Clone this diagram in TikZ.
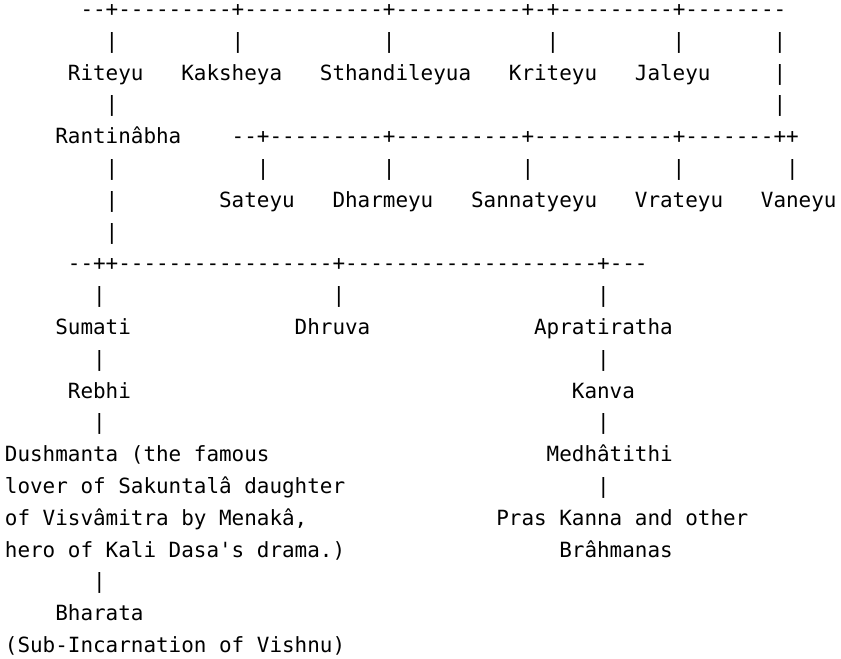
\documentclass[tikz,border=0pt]{standalone}
\usepackage{fontspec}
\setmonofont{DejaVu Sans Mono}
\frenchspacing
\begin{document}
\begin{tikzpicture}[x=9.45pt, y=-23.85pt,
  person/.style={anchor=base west, inner sep=0pt, outer sep=0pt,
    font=\ttfamily\fontsize{15.7pt}{23.85pt}\selectfont},
  link/.style={person}]
  \useasboundingbox (-0.389,-0.519) rectangle (66.357,20.173);
  % top row of brothers
  \node[link] (topbar) at (6,0) {--+---------+-----------+----------+-+---------+--------};
  \foreach \c in {8,18,30,43,53,61} \node[link] (topdrop-\c) at (\c,1) {|};
  \node[person] (riteyu) at (5,2) {Riteyu};
  \node[person] (kaksheya) at (14,2) {Kaksheya};
  \node[person] (sthandileyua) at (25,2) {Sthandileyua};
  \node[person] (kriteyu) at (40,2) {Kriteyu};
  \node[person] (jaleyu) at (50,2) {Jaleyu};
  \node[link] (side-2) at (61,2) {|};
  \node[link] (riteyu-down) at (8,3) {|};
  \node[link] (side-3) at (61,3) {|};
  % Rantinabha and the second row
  \node[person] (rantinabha) at (4,4) {Rantinâbha};
  \node[link] (midbar) at (18,4) {--+---------+----------+-----------+-------++};
  \foreach \c in {8,20,30,41,53,62} \node[link] (middrop-\c) at (\c,5) {|};
  \node[link] (stem-6) at (8,6) {|};
  \node[person] (sateyu) at (17,6) {Sateyu};
  \node[person] (dharmeyu) at (26,6) {Dharmeyu};
  \node[person] (sannatyeyu) at (37,6) {Sannatyeyu};
  \node[person] (vrateyu) at (50,6) {Vrateyu};
  \node[person] (vaneyu) at (60,6) {Vaneyu};
  \node[link] (stem-7) at (8,7) {|};
  % sons of Rantinabha
  \node[link] (lowbar) at (5,8) {--++-----------------+--------------------+---};
  \foreach \c in {7,26,47} \node[link] (lowdrop-\c) at (\c,9) {|};
  \node[person] (sumati) at (4,10) {Sumati};
  \node[person] (dhruva) at (23,10) {Dhruva};
  \node[person] (apratiratha) at (42,10) {Apratiratha};
  \foreach \c in {7,47} \node[link] (down11-\c) at (\c,11) {|};
  \node[person] (rebhi) at (5,12) {Rebhi};
  \node[person] (kanva) at (45,12) {Kanva};
  \foreach \c in {7,47} \node[link] (down13-\c) at (\c,13) {|};
  % left line: Dushmanta and Bharata
  \node[person] (dushmanta-a) at (0,14) {Dushmanta (the famous};
  \node[person] (dushmanta-b) at (0,15) {lover of Sakuntalâ daughter};
  \node[person] (dushmanta-c) at (0,16) {of Visvâmitra by Menakâ,};
  \node[person] (dushmanta-d) at (0,17) {hero of Kali Dasa's drama.)};
  \node[link] (down18) at (7,18) {|};
  \node[person] (bharata) at (4,19) {Bharata};
  \node[person] (bharata-note) at (0,20) {(Sub-Incarnation of Vishnu)};
  % right line: Kanva's descendants
  \node[person] (medhatithi) at (43,14) {Medhâtithi};
  \node[link] (down15) at (47,15) {|};
  \node[person] (praskanna-a) at (39,16) {Pras Kanna and other};
  \node[person] (praskanna-b) at (44,17) {Brâhmanas};
\end{tikzpicture}
\end{document}
